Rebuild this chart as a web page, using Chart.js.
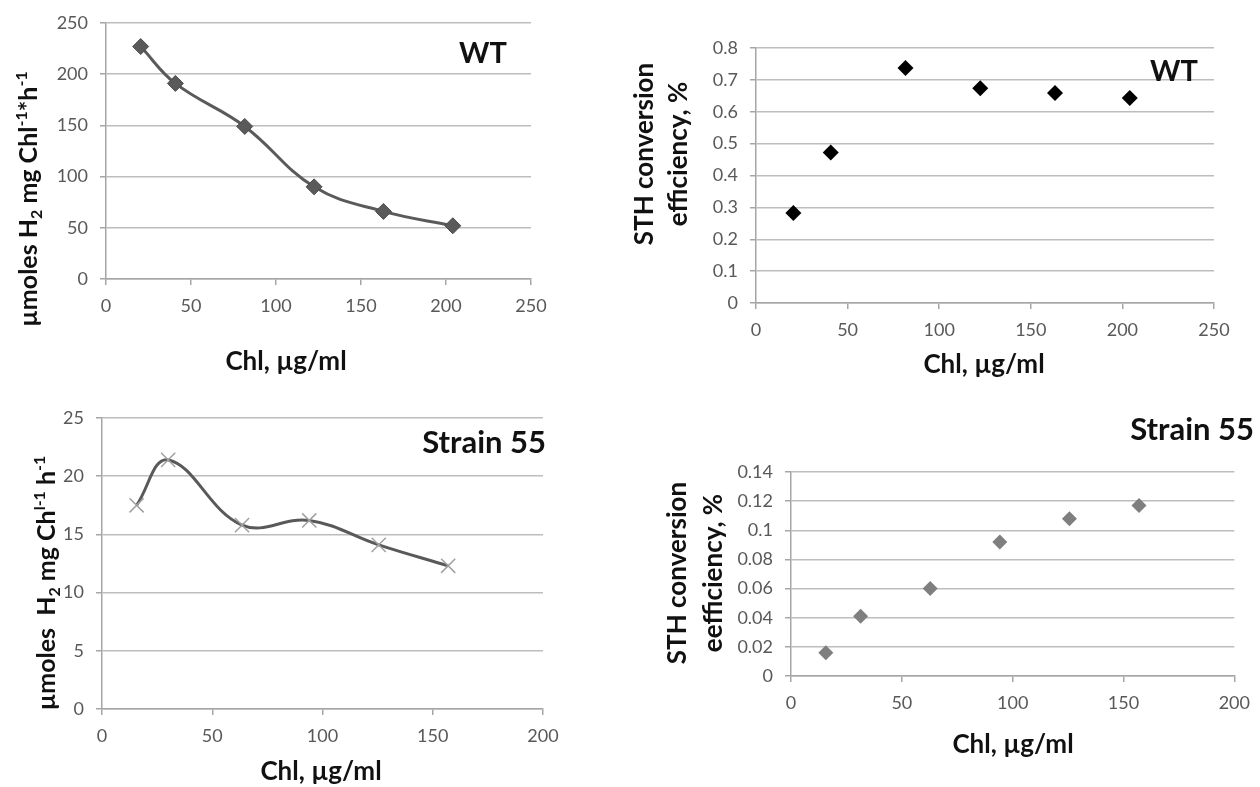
<!DOCTYPE html>
<html>
<head>
<meta charset="utf-8">
<script src="https://cdn.jsdelivr.net/npm/chart.js@4.4.1/dist/chart.umd.min.js"></script>
<style>
  html, body { margin: 0; padding: 0; background: #fff; }
  body { width: 1260px; height: 787px; position: relative; overflow: hidden; }
  canvas { position: absolute; }
</style>
</head>
<body>
<canvas id="wtYield" width="600" height="390" style="left:0;top:0"></canvas>
<canvas id="s55Yield" width="600" height="397" style="left:0;top:390px"></canvas>
<canvas id="wtSth" width="660" height="390" style="left:600px;top:0"></canvas>
<canvas id="s55Sth" width="660" height="397" style="left:600px;top:390px"></canvas>
<script>
// WT: H2 yield vs chlorophyll
const wtChl = [20.4, 40.8, 81.6, 122.4, 163.2, 204];
const wtH2 = [227, 191, 149, 90, 66, 52];
// Strain 55: H2 yield vs chlorophyll
const s55Chl = [15.7, 30, 63.5, 94, 125.5, 157];
const s55H2 = [17.5, 21.4, 15.8, 16.2, 14.1, 12.3];
// WT: STH conversion efficiency
const wtSthChl = [20.4, 40.8, 81.6, 122.4, 163.2, 204];
const wtSth = [0.282, 0.472, 0.737, 0.674, 0.659, 0.643];
// Strain 55: STH conversion efficiency
const s55SthChl = [15.7, 31.4, 62.8, 94.2, 125.6, 157];
const s55Sth = [0.016, 0.041, 0.060, 0.092, 0.108, 0.117];

// axis ticks
const xTicks250 = [0, 50, 100, 150, 200, 250];
const xTicks200 = [0, 50, 100, 150, 200];
const wtH2Ticks = [0, 50, 100, 150, 200, 250];
const s55H2Ticks = [0, 5, 10, 15, 20, 25];
const wtSthTicks = [0, 0.1, 0.2, 0.3, 0.4, 0.5, 0.6, 0.7, 0.8];
const s55SthTicks = [0, 0.02, 0.04, 0.06, 0.08, 0.1, 0.12, 0.14];

Chart.defaults.font.family = 'Lato';

const pts = (xs, ys) => xs.map((x, i) => ({ x: x, y: ys[i] }));

// draws text runs (with sub/superscripts) anywhere on the canvas
function drawRuns(ctx, item) {
  const size = item.size;
  const parts = item.runs.map(r => {
    const small = r[1] === 'sup' || r[1] === 'sub';
    const f = 'bold ' + (small ? Math.round(size * 0.65) : size) + 'px Lato';
    ctx.font = f;
    return { t: r[0], f: f, w: ctx.measureText(r[0]).width,
             dy: r[1] === 'sup' ? -size * 0.42 : r[1] === 'sub' ? size * 0.18 : 0 };
  });
  const total = parts.reduce((a, p) => a + p.w, 0);
  let x = item.align === 'right' ? -total : -total / 2;
  ctx.fillStyle = '#111';
  ctx.textBaseline = 'alphabetic';
  ctx.textAlign = 'left';
  parts.forEach(p => {
    ctx.font = p.f;
    ctx.fillText(p.t, x, p.dy);
    x += p.w;
  });
}

const freeText = {
  id: 'freeText',
  afterDraw(chart, args, opts) {
    const ctx = chart.ctx;
    (opts.items || []).forEach(it => {
      ctx.save();
      ctx.translate(it.x, it.y);
      if (it.rotate) ctx.rotate(-Math.PI / 2);
      drawRuns(ctx, it);
      ctx.restore();
    });
  }
};

function scales(xTicks, yTicks, area, h) {
  const fmt = v => String(+v.toFixed(3));
  return {
    x: {
      type: 'linear',
      min: xTicks[0],
      max: xTicks[xTicks.length - 1],
      afterBuildTicks: s => { s.ticks = xTicks.map(v => ({ value: v })); },
      afterFit: s => { s.height = h - area.bottom; },
      grid: { drawOnChartArea: false, color: '#a6a6a6', lineWidth: 1.5, tickLength: 6 },
      border: { color: '#a6a6a6', width: 1.5 },
      ticks: { font: { size: 18 }, color: '#595959', padding: 10, maxRotation: 0, autoSkip: false, callback: fmt }
    },
    y: {
      min: yTicks[0],
      max: yTicks[yTicks.length - 1],
      afterBuildTicks: s => { s.ticks = yTicks.map(v => ({ value: v })); },
      afterFit: s => { s.width = area.left; },
      grid: { color: '#bdbdbd', lineWidth: 1.5, tickLength: 6, tickColor: '#a6a6a6' },
      border: { color: '#a6a6a6', width: 1.5 },
      ticks: { font: { size: 18 }, color: '#595959', padding: 12, autoSkip: false, callback: fmt }
    }
  };
}

function makeChart(id, type, dataset, xTicks, yTicks, area, texts) {
  const cv = document.getElementById(id);
  return new Chart(cv, {
    type: type,
    data: { datasets: [dataset] },
    options: {
      responsive: false,
      animation: false,
      events: [],
      layout: { padding: { top: area.top, right: cv.width - area.right, left: 0, bottom: 0 } },
      scales: scales(xTicks, yTicks, area, cv.height),
      plugins: {
        legend: { display: false },
        tooltip: { enabled: false },
        freeText: { items: texts }
      }
    },
    plugins: [freeText]
  });
}

makeChart('wtYield', 'line', {
  data: pts(wtChl, wtH2),
  borderColor: '#5a5a5a',
  borderWidth: 3,
  tension: 0.4,
  pointStyle: 'rectRot',
  pointRadius: 8,
  pointBackgroundColor: '#5a5a5a',
  pointBorderColor: '#4d4d4d',
  pointBorderWidth: 1
}, xTicks250, wtH2Ticks, { left: 106, right: 531, top: 23, bottom: 279 }, [
  { runs: [['µmoles H'], ['2', 'sub'], [' mg Chl'], ['-1', 'sup'], ['*h'], ['-1', 'sup']],
    x: 37, y: 199, rotate: true, size: 25 },
  { runs: [['Chl, µg/ml']], x: 286, y: 370, size: 26 },
  { runs: [['WT']], x: 507, y: 63, size: 29, align: 'right' }
]);

makeChart('s55Yield', 'line', {
  data: pts(s55Chl, s55H2),
  borderColor: '#595959',
  borderWidth: 3,
  tension: 0.4,
  pointStyle: 'crossRot',
  pointRadius: 10,
  pointBorderColor: '#a0a0a0',
  pointBorderWidth: 1.5
}, xTicks200, s55H2Ticks, { left: 102, right: 543, top: 28, bottom: 319 }, [
  { runs: [['µmoles  H'], ['2', 'sub'], [' mg Ch'], ['l-1', 'sup'], [' h'], ['-1', 'sup']],
    x: 55, y: 193, rotate: true, size: 25 },
  { runs: [['Chl, µg/ml']], x: 321, y: 390, size: 26 },
  { runs: [['Strain 55']], x: 546, y: 63, size: 31, align: 'right' }
]);

makeChart('wtSth', 'scatter', {
  data: pts(wtSthChl, wtSth),
  pointStyle: 'rectRot',
  pointRadius: 8,
  pointBackgroundColor: '#000',
  pointBorderColor: '#000',
  pointBorderWidth: 0
}, xTicks250, wtSthTicks, { left: 156, right: 614, top: 48, bottom: 303 }, [
  { runs: [['STH conversion']], x: 53, y: 154, rotate: true, size: 26 },
  { runs: [['efficiency, %']], x: 87, y: 154, rotate: true, size: 26 },
  { runs: [['Chl, µg/ml']], x: 384, y: 373, size: 26 },
  { runs: [['WT']], x: 598, y: 81, size: 29, align: 'right' }
]);

makeChart('s55Sth', 'scatter', {
  data: pts(s55SthChl, s55Sth),
  pointStyle: 'rectRot',
  pointRadius: 7.5,
  pointBackgroundColor: '#7f7f7f',
  pointBorderColor: '#7f7f7f',
  pointBorderWidth: 0
}, xTicks200, s55SthTicks, { left: 191, right: 639, top: 82, bottom: 286 }, [
  { runs: [['STH conversion']], x: 86, y: 183, rotate: true, size: 26 },
  { runs: [['eefficiency, %']], x: 122, y: 183, rotate: true, size: 26 },
  { runs: [['Chl, µg/ml']], x: 413, y: 363, size: 26 },
  { runs: [['Strain 55']], x: 654, y: 50, size: 31, align: 'right' }
]);
</script>
</body>
</html>
